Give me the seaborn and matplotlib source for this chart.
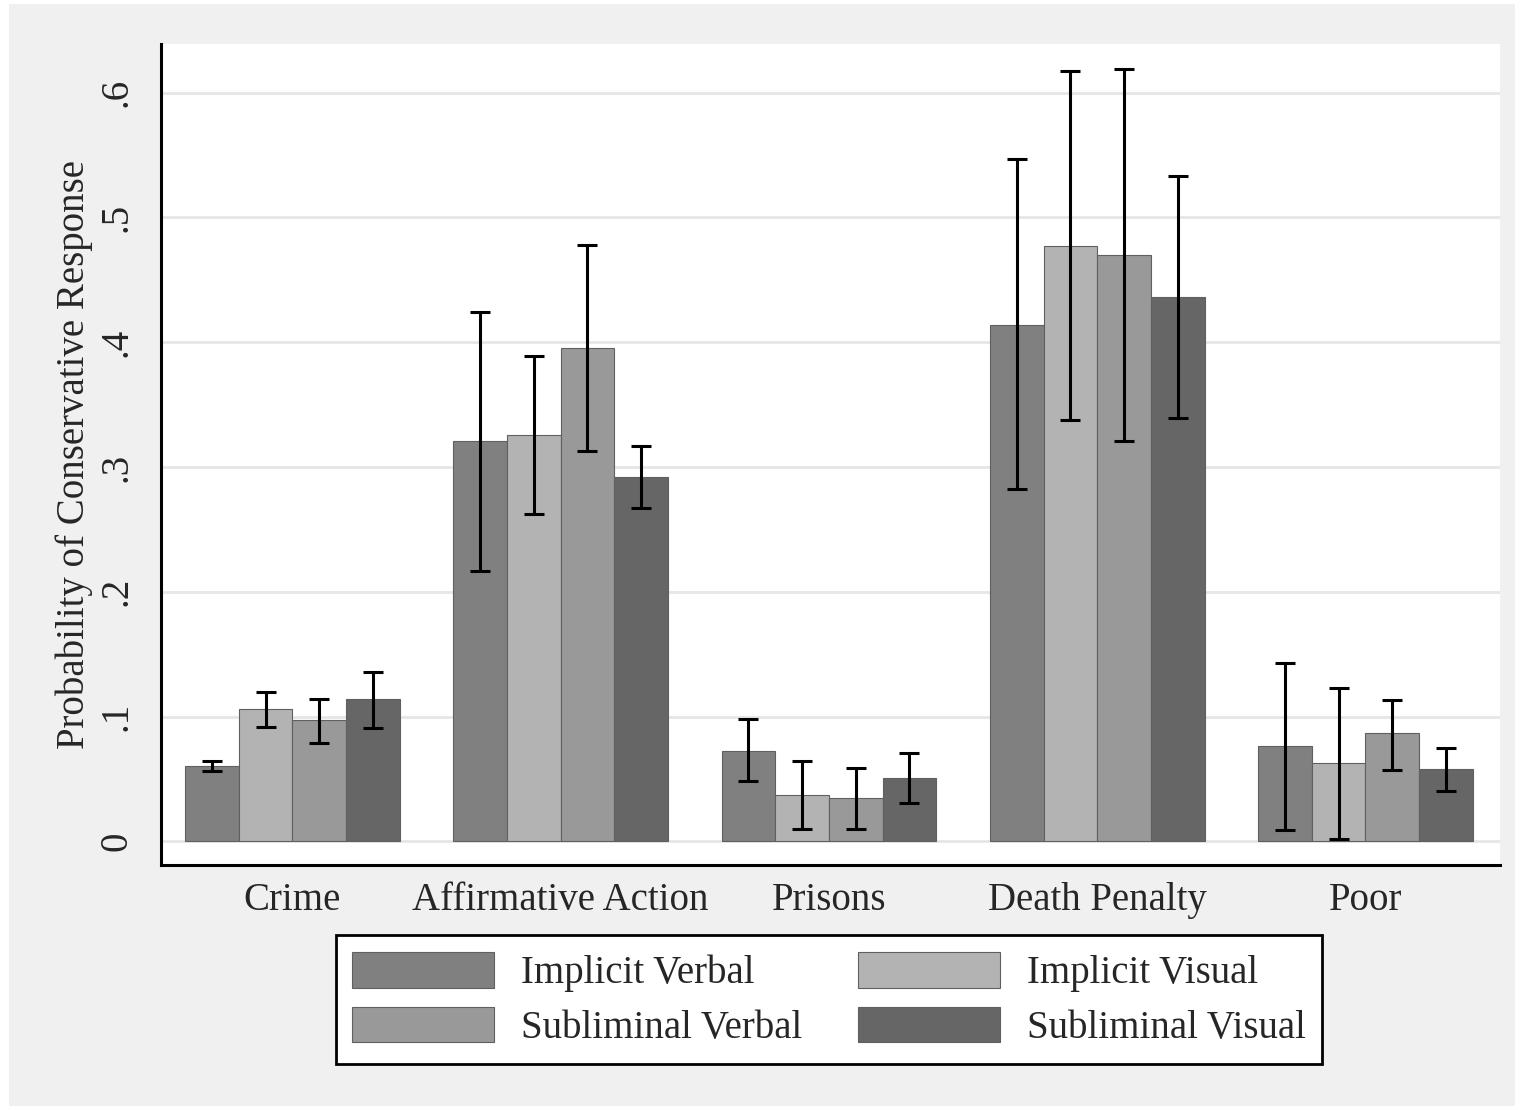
import numpy as np
import pandas as pd
import matplotlib
matplotlib.use("Agg")
import matplotlib.pyplot as plt
from matplotlib.patches import Rectangle
import seaborn as sns

# data
topics = ['Crime', 'Affirmative Action', 'Prisons', 'Death Penalty', 'Poor']
conditions = ['Implicit Verbal', 'Implicit Visual', 'Subliminal Verbal', 'Subliminal Visual']

implicit_verbal = [0.060, 0.321, 0.072, 0.414, 0.076]
implicit_visual = [0.106, 0.326, 0.037, 0.477, 0.063]
subliminal_verbal = [0.097, 0.395, 0.035, 0.470, 0.087]
subliminal_visual = [0.114, 0.292, 0.051, 0.436, 0.058]

# confidence interval ends
iv_lo = [0.056, 0.217, 0.048, 0.282, 0.009]
iv_hi = [0.064, 0.424, 0.098, 0.547, 0.143]
ivis_lo = [0.092, 0.262, 0.010, 0.338, 0.002]
ivis_hi = [0.120, 0.389, 0.064, 0.617, 0.123]
sv_lo = [0.079, 0.313, 0.010, 0.321, 0.057]
sv_hi = [0.114, 0.478, 0.059, 0.619, 0.113]
svis_lo = [0.091, 0.267, 0.031, 0.339, 0.040]
svis_hi = [0.136, 0.317, 0.071, 0.533, 0.075]

yticks = [0, 0.1, 0.2, 0.3, 0.4, 0.5, 0.6]
ytick_labels = ['0', '.1', '.2', '.3', '.4', '.5', '.6']

colors = ['#808080', '#b3b3b3', '#999999', '#666666']

values = [implicit_verbal, implicit_visual, subliminal_verbal, subliminal_visual]
lows = [iv_lo, ivis_lo, sv_lo, svis_lo]
highs = [iv_hi, ivis_hi, sv_hi, svis_hi]

rows = []
for cond, vals in zip(conditions, values):
    for t, v in zip(topics, vals):
        rows.append({'topic': t, 'condition': cond, 'prob': v})
df = pd.DataFrame(rows)

sns.set_style("white")
plt.rcParams['font.family'] = ['Liberation Serif', 'DejaVu Serif']
fs = 28

fig = plt.figure(figsize=(15.24, 11.1), dpi=100)
fig.patch.set_facecolor('white')
fig.patches.append(Rectangle((0.006, 0.004), 0.988, 0.992, transform=fig.transFigure,
                             facecolor='#f0f0f0', edgecolor='none', zorder=-10))
ax = fig.add_axes([0.1056, 0.2207, 0.8784, 0.7397])
ax.set_facecolor('white')

sns.barplot(data=df, x='topic', y='prob', hue='condition', order=topics,
            hue_order=conditions, palette=colors, errorbar=None, width=0.8,
            saturation=1, edgecolor='#606060', linewidth=0.8, ax=ax, zorder=3)

for cont, vals, lo, hi in zip(ax.containers, values, lows, highs):
    xs = [b.get_x() + b.get_width() / 2 for b in cont]
    v = np.array(vals)
    yerr = [v - np.array(lo), np.array(hi) - v]
    ax.errorbar(xs, v, yerr=yerr, fmt='none', ecolor='black', elinewidth=2.2,
                capsize=7, capthick=2.2, zorder=4)

ax.set_ylim(-0.019, 0.639)
ax.set_xlim(-0.49, 4.5)
ax.set_yticks(yticks)
ax.set_yticklabels(ytick_labels, rotation=90, va='center', fontsize=fs)
ax.yaxis.grid(True, color='#e6e6e6', linewidth=2, zorder=0)
ax.set_axisbelow(True)
ax.tick_params(axis='y', direction='out', length=12, width=1.8, pad=6, color='black')
ax.tick_params(axis='x', length=0, pad=12, labelsize=fs)

for s in ['top', 'right']:
    ax.spines[s].set_visible(False)
for s in ['left', 'bottom']:
    ax.spines[s].set_color('black')
    ax.spines[s].set_linewidth(2.2)

ax.set_xlabel('')
ax.set_ylabel('Probability of Conservative Response', fontsize=fs, labelpad=4)

handles, labels = ax.get_legend_handles_labels()
ax.get_legend().remove()
order = [0, 2, 1, 3]
leg = fig.legend([handles[i] for i in order], [labels[i] for i in order],
                 loc='center', bbox_to_anchor=(0.544, 0.0995), ncol=2,
                 fontsize=fs, frameon=True, fancybox=False, framealpha=1,
                 edgecolor='black', handlelength=3.65, handleheight=1.02,
                 handletextpad=0.68, columnspacing=1.45, labelspacing=0.38,
                 borderpad=0.43)
leg.get_frame().set_linewidth(2)

fig.savefig('out.png', dpi=100, facecolor=fig.get_facecolor())
